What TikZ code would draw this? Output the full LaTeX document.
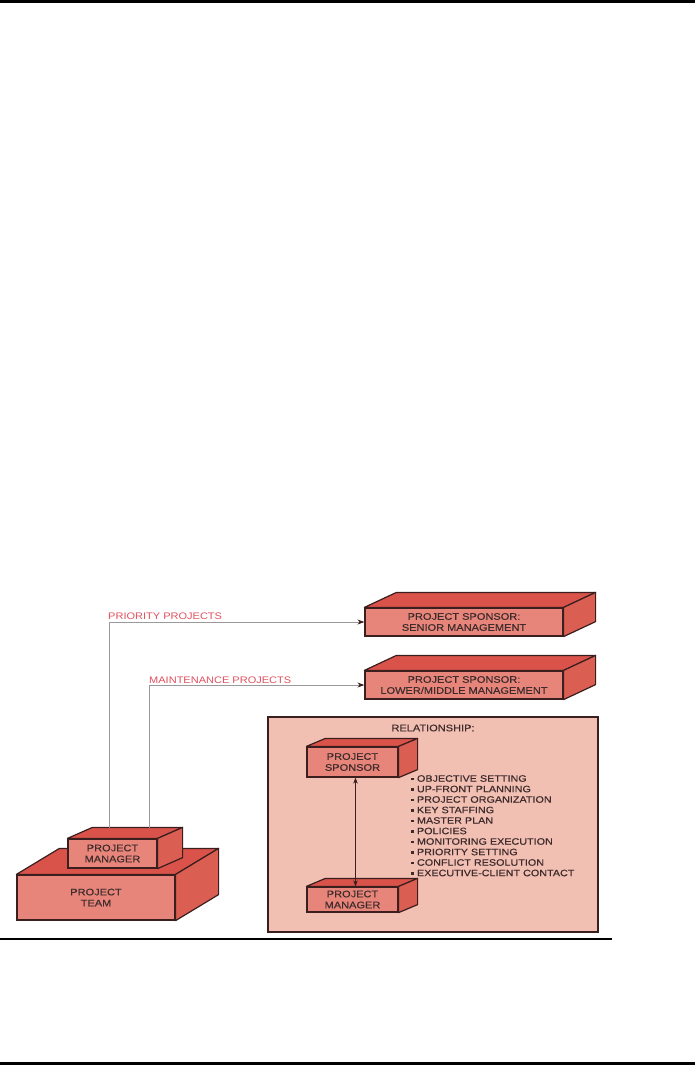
\documentclass[tikz,border=0pt]{standalone}
\usepackage{fontspec}
\newfontfamily\diagfont[FakeStretch=1.16,FakeBold=0.4]{Liberation Sans}
\newfontfamily\labfont[FakeStretch=1.16]{Liberation Sans}
\usetikzlibrary{arrows.meta}
\definecolor{frontc}{HTML}{E8857A}
\definecolor{topc}{HTML}{D9534B}
\definecolor{sidec}{HTML}{DB5E52}
\definecolor{relc}{HTML}{F2BFB3}
\definecolor{edgec}{HTML}{3B1E1E}
\definecolor{labred}{HTML}{E0505E}
\definecolor{txtc}{HTML}{3E2C2C}
\definecolor{leadc}{HTML}{9A9A9A}
\tikzset{
  frontface/.style={draw=edgec, line width=1.2pt, fill=frontc, inner sep=0pt,
     text=txtc, align=center, font=\diagfont\fontsize{9.5}{11}\selectfont},
  topface/.style={draw=edgec, line width=1.2pt, fill=topc, line join=round},
  sideface/.style={draw=edgec, line width=1.2pt, fill=sidec, line join=round},
  redlab/.style={text=labred, font=\labfont\fontsize{9.5}{11}\selectfont, inner sep=0pt},
  tip/.style={-{Stealth[length=7pt,width=5pt,color=edgec]}, draw=leadc, line width=1pt},
}
\newcommand{\drawdepth}[3]{%
  \draw[topface] (#1.north west) -- ++(#2,#3) -- ([shift={(#2,#3)}]#1.north east) -- (#1.north east) -- cycle;
  \draw[sideface] (#1.north east) -- ++(#2,#3) -- ([shift={(#2,#3)}]#1.south east) -- (#1.south east) -- cycle;}
\newcommand{\bsq}{\rule[1.6pt]{2.6pt}{2.6pt}\hspace{3.2pt}}
\begin{document}
\begin{tikzpicture}[x=1pt,y=-1pt]
\useasboundingbox (0,0) rectangle (695,1066);
% page rules
\fill[black] (0,0) rectangle (695,2.5);
\fill[black] (0,1061.5) rectangle (695,1064.5);
\fill[black] (0,937.8) rectangle (612,940);
% relationship panel
\node[draw=edgec, line width=1.2pt, fill=relc, minimum width=330pt, minimum height=215pt, inner sep=0pt] (rel) at (433,824.5) {};
\node[text=txtc, font=\diagfont\fontsize{9.5}{11}\selectfont, inner sep=0pt] (reltitle) at (433,728) {RELATIONSHIP:};
% project team and manager
\node[frontface, minimum width=158pt, minimum height=45pt] (team) at (96,897.5) {PROJECT\\TEAM};
\drawdepth{team}{43}{-26}
\node[frontface, minimum width=89pt, minimum height=29pt] (pm) at (112.5,853.5) {PROJECT\\MANAGER};
\drawdepth{pm}{25}{-11}
% sponsor boxes
\node[frontface, minimum width=198pt, minimum height=28pt] (senior) at (464,622) {PROJECT SPONSOR:\\SENIOR MANAGEMENT};
\drawdepth{senior}{32}{-15}
\node[frontface, minimum width=198pt, minimum height=28pt] (lower) at (464,685) {PROJECT SPONSOR:\\LOWER/MIDDLE MANAGEMENT};
\drawdepth{lower}{32}{-15}
% leaders
\coordinate (pmA) at (109,828);
\coordinate (pmB) at (149,828);
\draw[tip] (pmA) |- (senior.west);
\draw[tip] (pmB) |- (lower.west);
\node[redlab, anchor=south west] (prilab) at (108,619.5) {PRIORITY PROJECTS};
\node[redlab, anchor=south west] (mainlab) at (149,683.5) {MAINTENANCE PROJECTS};
% inner boxes
\node[frontface, minimum width=91pt, minimum height=30pt] (spons) at (352.5,762) {PROJECT\\SPONSOR};
\drawdepth{spons}{19}{-8}
\node[frontface, minimum width=91pt, minimum height=25pt] (mgr) at (352.5,899.5) {PROJECT\\MANAGER};
\drawdepth{mgr}{19}{-8}
\draw[{Stealth[length=6pt,width=4.5pt]}-{Stealth[length=6pt,width=4.5pt]}, draw=edgec, line width=0.6pt] ([xshift=3pt]spons.south) -- ([xshift=3pt]mgr.north);
% bullet list
\node[anchor=north west, align=left, inner sep=0pt, text=txtc, font=\diagfont\fontsize{9.3}{10.5}\selectfont] (list) at (411,775) {%
\bsq OBJECTIVE SETTING\\
\bsq UP-FRONT PLANNING\\
\bsq PROJECT ORGANIZATION\\
\bsq KEY STAFFING\\
\bsq MASTER PLAN\\
\bsq POLICIES\\
\bsq MONITORING EXECUTION\\
\bsq PRIORITY SETTING\\
\bsq CONFLICT RESOLUTION\\
\bsq EXECUTIVE-CLIENT CONTACT};
\end{tikzpicture}
\end{document}
